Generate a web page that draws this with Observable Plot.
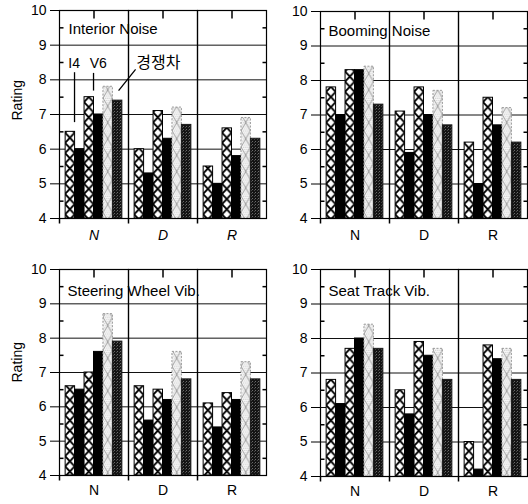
<!DOCTYPE html>
<html><head><meta charset="utf-8">
<script src="https://cdn.jsdelivr.net/npm/d3@7"></script>
<script src="https://cdn.jsdelivr.net/npm/@observablehq/plot@0.6"></script>
<style>
body{margin:0;background:#fff;}
#wrap{position:relative;width:528px;height:504px;overflow:hidden;background:#fff;}
.panel{position:absolute;}
</style></head><body><div id="wrap"></div>
<script>
// ---- data ----
const groups = ["N", "D", "R"];
const series = ["I4 (1)", "I4 (2)", "V6 (1)", "V6 (2)", "경쟁차 (1)", "경쟁차 (2)"];
const panelTitles = ["Interior Noise", "Booming Noise", "Steering Wheel Vib.", "Seat Track Vib."];
const yTicks = [4, 5, 6, 7, 8, 9, 10];
const gridValues = [5, 6, 7, 8, 9];
const minorTicks = [4.5, 5.5, 6.5, 7.5, 8.5, 9.5];
// rows: N, D, R ; columns follow `series`
const interiorNoise = [
  [6.5, 6.0, 7.5, 7.0, 7.8, 7.4],
  [6.0, 5.3, 7.1, 6.3, 7.2, 6.7],
  [5.5, 5.0, 6.6, 5.8, 6.9, 6.3]
];
const boomingNoise = [
  [7.8, 7.0, 8.3, 8.3, 8.4, 7.3],
  [7.1, 5.9, 7.8, 7.0, 7.7, 6.7],
  [6.2, 5.0, 7.5, 6.7, 7.2, 6.2]
];
const steeringWheelVib = [
  [6.6, 6.5, 7.0, 7.6, 8.7, 7.9],
  [6.6, 5.6, 6.5, 6.2, 7.6, 6.8],
  [6.1, 5.4, 6.4, 6.2, 7.3, 6.8]
];
const seatTrackVib = [
  [6.8, 6.1, 7.7, 8.0, 8.4, 7.7],
  [6.5, 5.8, 7.9, 7.5, 7.7, 6.8],
  [5.0, 4.2, 7.8, 7.4, 7.7, 6.8]
];
// annotation (Interior Noise panel, group N)
const noteLabels = [
  {group: "N", text: "I4", x: 0.9, y: 8.47},
  {group: "N", text: "V6", x: 3.45, y: 8.47},
  {group: "N", text: "경쟁차", x: 9.8, y: 8.5}
];
const noteLines = [
  {group: "N", x1: 0.94, y1: 8.22, x2: 0.94, y2: 6.78},
  {group: "N", x1: 2.95, y1: 8.2, x2: 2.95, y2: 7.69},
  {group: "N", x1: 7.4, y1: 8.3, x2: 5.6, y2: 7.69}
];

// ---- drawing ----
const tickRight = {draw(ctx) { ctx.moveTo(0, 0); ctx.lineTo(4, 0); }};
const tickLeft = {draw(ctx) { ctx.moveTo(0, 0); ctx.lineTo(-4, 0); }};
const tickDown = {draw(ctx) { ctx.moveTo(0, 0); ctx.lineTo(0, 8); }};
const tickOut = {draw(ctx) { ctx.moveTo(0, 0); ctx.lineTo(0, 5); }};

const layouts = [
  {values: interiorNoise, left: 0, top: 0, width: 268, ml: 59, mr: 2, mt: 10, mb: 34, fxPad: 12, rating: true, ratingDy: 6, titleDx: 9, titleDy: 13, italic: true, notes: true},
  {values: boomingNoise, left: 264, top: 0, width: 264, ml: 55, mr: 1, mt: 11, mb: 34, fxPad: 12, rating: false, titleDx: 8, titleDy: 14},
  {values: steeringWheelVib, left: 0, top: 252, width: 268, ml: 59, mr: 2, mt: 17, mb: 29, fxPad: 10, rating: true, ratingDy: 10, titleDx: 8, titleDy: 16},
  {values: seatTrackVib, left: 264, top: 252, width: 264, ml: 55, mr: 1, mt: 17, mb: 28, fxPad: 10, rating: false, titleDx: 8, titleDy: 16}
];

const wrap = document.getElementById("wrap");

layouts.forEach((c, pid) => {
  const rows = [];
  groups.forEach((g, gi) => series.forEach((s, si) => rows.push({group: g, series: s, idx: si, value: c.values[gi][si]})));
  const fills = [`url(#xh${pid})`, "#000", `url(#xh${pid})`, "#000", `url(#lt${pid})`, `url(#dk${pid})`];
  const strokes = ["#000", "#000", "#000", "#000", "#9a9a9a", "#1a1a1a"];
  const dashes = [undefined, undefined, undefined, undefined, "2,1.5", undefined];

  const marks = [
    Plot.ruleY(gridValues, {stroke: "#111", strokeWidth: 1}),
    ...series.map((s, si) => Plot.rectY(rows.filter(r => r.idx === si), {
      fx: "group", x1: "idx", x2: d => d.idx + 1, y1: 4, y2: "value",
      fill: fills[si], stroke: strokes[si], strokeWidth: 1, strokeDasharray: dashes[si]
    })),
    Plot.frame({stroke: "#000", strokeWidth: 1.2}),
    Plot.dot(minorTicks.map(v => ({group: "N", v})), {fx: "group", y: "v", frameAnchor: "left", symbol: tickRight, stroke: "#000", fill: "none"}),
    Plot.dot(minorTicks.map(v => ({group: "R", v})), {fx: "group", y: "v", frameAnchor: "right", symbol: tickLeft, stroke: "#000", fill: "none"}),
    Plot.dot(groups, {fx: d => d, frameAnchor: "top", symbol: tickDown, stroke: "#000", fill: "none"}),
    Plot.dot(groups, {fx: d => d, frameAnchor: "bottom-left", symbol: tickOut, stroke: "#000", fill: "none"}),
    Plot.text([panelTitles[pid]], {fx: () => "N", text: d => d, frameAnchor: "top-left", textAnchor: "start", lineAnchor: "top", dx: c.titleDx, dy: c.titleDy, fontSize: 15, fill: "#000"})
  ];
  if (c.rating) {
    marks.push(Plot.text(["Rating"], {fx: () => "N", text: d => d, frameAnchor: "left", rotate: -90, dx: -42, dy: c.ratingDy, fontSize: 14, fill: "#000"}));
  }
  if (c.notes) {
    marks.push(Plot.link(noteLines, {fx: "group", x1: "x1", y1: "y1", x2: "x2", y2: "y2", stroke: "#000", strokeWidth: 1.3}));
    marks.push(Plot.text(noteLabels.slice(0, 2), {fx: "group", x: "x", y: "y", text: "text", fontSize: 14, fill: "#000"}));
    marks.push(Plot.text(noteLabels.slice(2), {fx: "group", x: "x", y: "y", text: "text", fontSize: 16, fill: "#000", fontFamily: "'Noto Sans CJK KR', sans-serif"}));
  }

  const svg = Plot.plot({
    width: c.width, height: 252,
    marginLeft: c.ml, marginRight: c.mr, marginTop: c.mt, marginBottom: c.mb,
    style: {fontSize: "14px", fontFamily: "Arial, 'Liberation Sans', sans-serif", background: "transparent", color: "#000", overflow: "visible"},
    fx: {domain: groups, padding: 0, label: null, axis: "bottom", tickSize: 0, tickPadding: c.fxPad},
    x: {domain: [-0.65, 6.65], axis: null},
    y: {domain: [4, 10], ticks: yTicks, tickFormat: d => String(d), tickSize: 9, tickPadding: 4, label: null},
    color: {type: "identity"},
    marks
  });

  // measure one bar to align the pattern tiles with the bars
  let bx = 0, bw = 9.45;
  const g0 = svg.querySelector(`g[fill="url(#xh${pid})"]`);
  const r0 = g0 && g0.querySelector("rect");
  if (r0) { bx = +r0.getAttribute("x"); bw = +r0.getAttribute("width"); }
  const h = bw * 1.08;
  let dots = "";
  for (let i = 0; i < bw; i += 2) for (let j = 0; j < h * 1.6; j += 2) dots += `<rect x="${i + ((j / 2) % 2)}" y="${j}" width="0.9" height="0.9" fill="#c4c4c4"/>`;
  const defs = `<defs>
<pattern id="xh${pid}" patternUnits="userSpaceOnUse" x="${bx}" y="0" width="${bw}" height="${h}">
<rect width="${bw}" height="${h}" fill="#fff"/>
<path d="M0,0L${bw},${h}M${bw},0L0,${h}" stroke="#000" stroke-width="1.8" fill="none"/>
</pattern>
<pattern id="lt${pid}" patternUnits="userSpaceOnUse" x="${bx}" y="0" width="${bw}" height="${h * 1.6}">
<rect width="${bw}" height="${h * 1.6}" fill="#f7f7f7"/>${dots}
<path d="M0,0L${bw},${h * 1.6}M${bw},0L0,${h * 1.6}" stroke="#8a8a8a" stroke-width="0.8" fill="none"/>
</pattern>
<pattern id="dk${pid}" patternUnits="userSpaceOnUse" width="3" height="3">
<rect width="3" height="3" fill="#141414"/>
<rect x="0" y="0" width="1" height="1" fill="#6a6a6a"/>
<rect x="2" y="1" width="1" height="1" fill="#444"/>
</pattern></defs>`;
  svg.insertAdjacentHTML("afterbegin", defs);

  if (c.italic) {
    svg.querySelectorAll('g[aria-label^="fx-axis"] text').forEach(t => t.setAttribute("font-style", "italic"));
  }

  const div = document.createElement("div");
  div.className = "panel";
  div.style.left = c.left + "px";
  div.style.top = c.top + "px";
  div.appendChild(svg);
  wrap.appendChild(div);
});
</script>
</body></html>
